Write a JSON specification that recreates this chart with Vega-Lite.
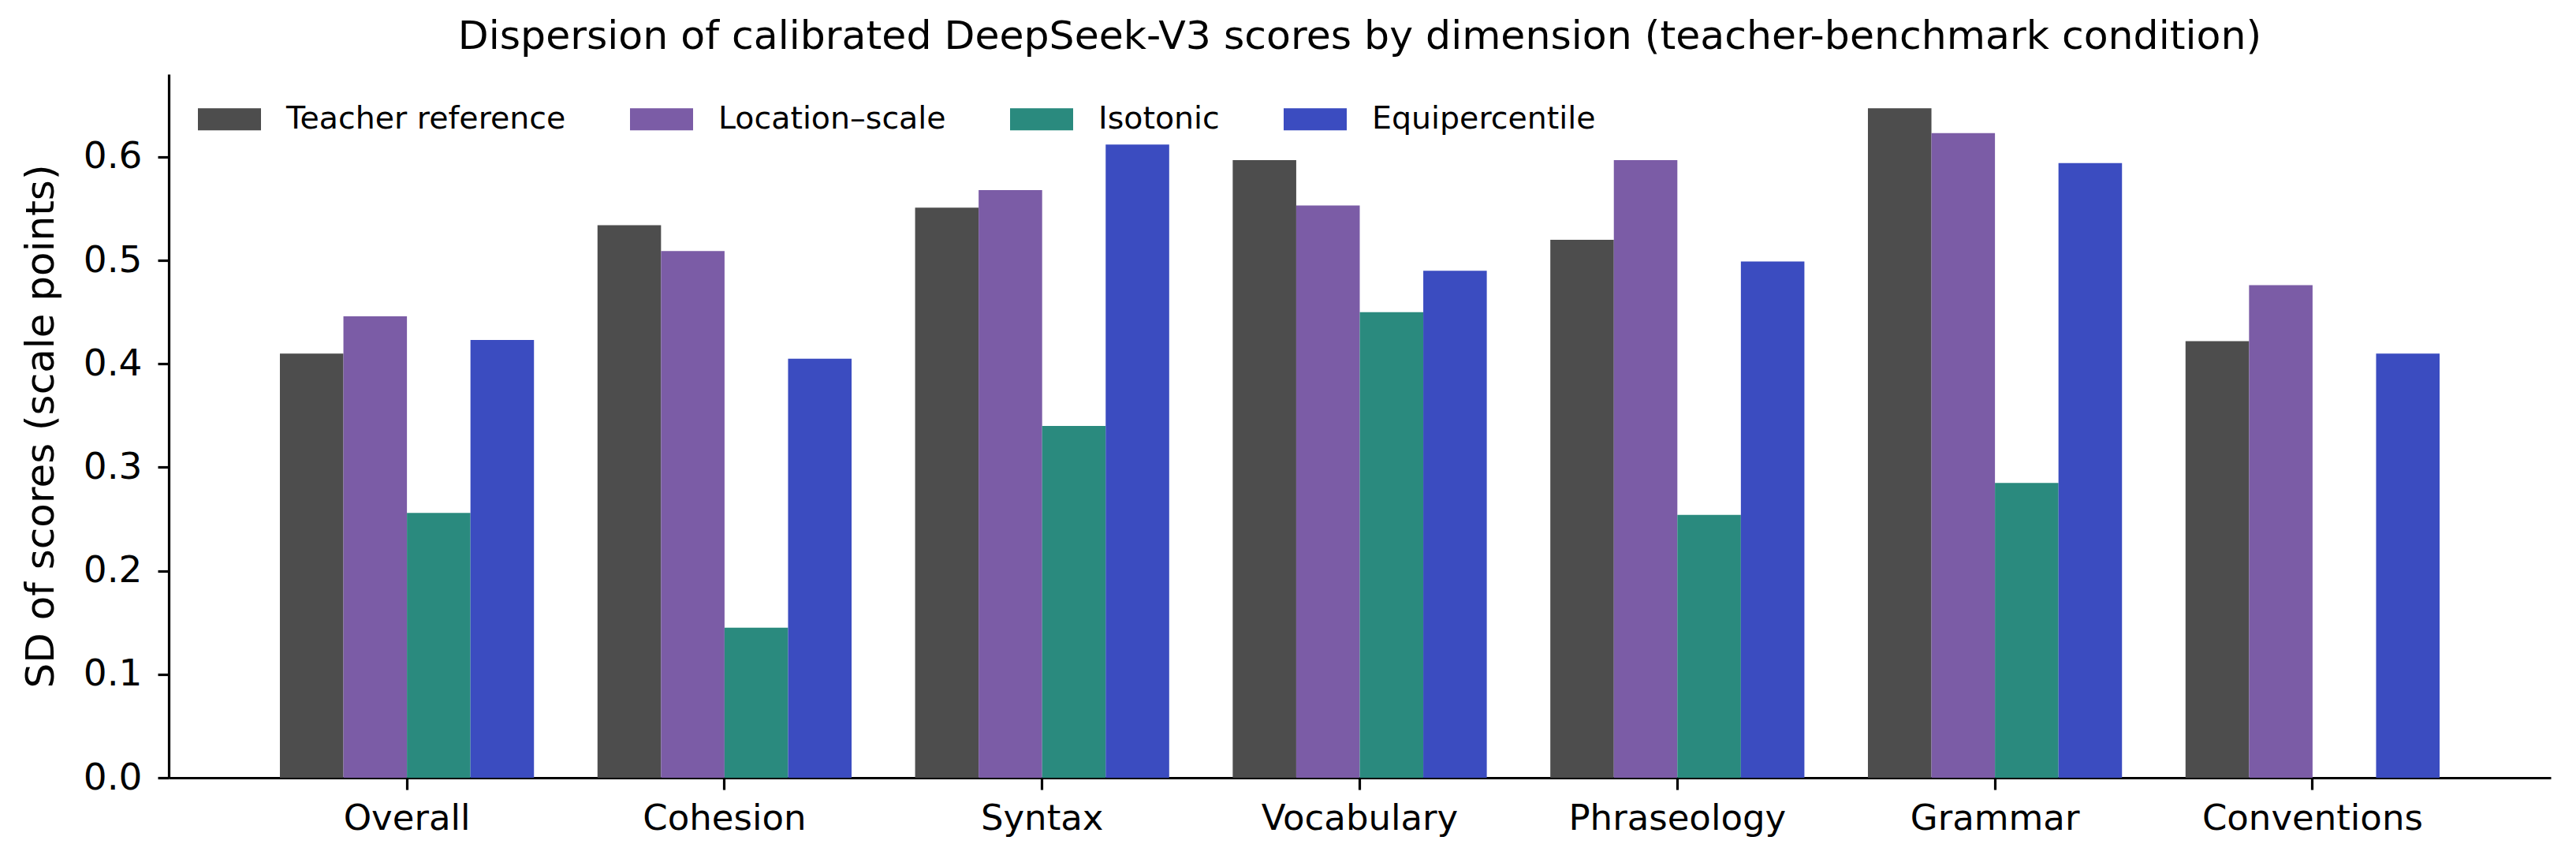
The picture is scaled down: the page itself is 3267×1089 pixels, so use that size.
{
  "$schema": "https://vega.github.io/schema/vega-lite/v6.json",
  "autosize": {"type": "none"},
  "padding": {"left": 214, "top": 94, "right": 32, "bottom": 103},
  "width": 3021,
  "height": 892,
  "background": "white",
  "title": {
    "text": "Dispersion of calibrated DeepSeek-V3 scores by dimension (teacher-benchmark condition)",
    "font": "DejaVu Sans",
    "fontSize": 50.5,
    "fontWeight": "normal",
    "color": "black",
    "anchor": "middle",
    "offset": 22
  },
  "data": {
    "values": [
      {"dimension": "Overall", "method": "Teacher reference", "sd": 0.410},
      {"dimension": "Overall", "method": "Location–scale", "sd": 0.446},
      {"dimension": "Overall", "method": "Isotonic", "sd": 0.256},
      {"dimension": "Overall", "method": "Equipercentile", "sd": 0.423},
      {"dimension": "Cohesion", "method": "Teacher reference", "sd": 0.534},
      {"dimension": "Cohesion", "method": "Location–scale", "sd": 0.509},
      {"dimension": "Cohesion", "method": "Isotonic", "sd": 0.145},
      {"dimension": "Cohesion", "method": "Equipercentile", "sd": 0.405},
      {"dimension": "Syntax", "method": "Teacher reference", "sd": 0.551},
      {"dimension": "Syntax", "method": "Location–scale", "sd": 0.568},
      {"dimension": "Syntax", "method": "Isotonic", "sd": 0.340},
      {"dimension": "Syntax", "method": "Equipercentile", "sd": 0.612},
      {"dimension": "Vocabulary", "method": "Teacher reference", "sd": 0.597},
      {"dimension": "Vocabulary", "method": "Location–scale", "sd": 0.553},
      {"dimension": "Vocabulary", "method": "Isotonic", "sd": 0.450},
      {"dimension": "Vocabulary", "method": "Equipercentile", "sd": 0.490},
      {"dimension": "Phraseology", "method": "Teacher reference", "sd": 0.520},
      {"dimension": "Phraseology", "method": "Location–scale", "sd": 0.597},
      {"dimension": "Phraseology", "method": "Isotonic", "sd": 0.254},
      {"dimension": "Phraseology", "method": "Equipercentile", "sd": 0.499},
      {"dimension": "Grammar", "method": "Teacher reference", "sd": 0.647},
      {"dimension": "Grammar", "method": "Location–scale", "sd": 0.623},
      {"dimension": "Grammar", "method": "Isotonic", "sd": 0.285},
      {"dimension": "Grammar", "method": "Equipercentile", "sd": 0.594},
      {"dimension": "Conventions", "method": "Teacher reference", "sd": 0.422},
      {"dimension": "Conventions", "method": "Location–scale", "sd": 0.476},
      {"dimension": "Conventions", "method": "Equipercentile", "sd": 0.410}
    ]
  },
  "mark": {"type": "bar"},
  "encoding": {
    "x": {
      "field": "dimension",
      "type": "nominal",
      "sort": ["Overall", "Cohesion", "Syntax", "Vocabulary", "Phraseology", "Grammar", "Conventions"],
      "scale": {"paddingInner": 0.2, "paddingOuter": 0.35},
      "axis": {
        "title": null,
        "labelAngle": 0,
        "labelFontSize": 45,
        "labelPadding": 14,
        "labelLimit": 0,
        "tickSize": 15
      }
    },
    "xOffset": {
      "field": "method",
      "type": "nominal",
      "sort": ["Teacher reference", "Location–scale", "Isotonic", "Equipercentile"],
      "scale": {"paddingInner": 0, "paddingOuter": 0}
    },
    "y": {
      "field": "sd",
      "type": "quantitative",
      "scale": {"domain": [0, 0.68], "nice": false},
      "axis": {
        "title": "SD of scores (scale points)",
        "values": [0, 0.1, 0.2, 0.3, 0.4, 0.5, 0.6],
        "format": ".1f",
        "labelFontSize": 47,
        "labelPadding": 20,
        "tickSize": 14,
        "titleFontSize": 50,
        "titleX": -162,
        "titleY": 446,
        "titleBaseline": "middle"
      }
    },
    "color": {
      "field": "method",
      "type": "nominal",
      "scale": {
        "domain": ["Teacher reference", "Location–scale", "Isotonic", "Equipercentile"],
        "range": ["#4d4d4d", "#7b5ca6", "#2a8a7e", "#3b4cc0"]
      },
      "legend": {
        "title": null,
        "orient": "none",
        "legendX": 37,
        "legendY": 17,
        "direction": "horizontal",
        "symbolType": "M-1,-0.35H1V0.35H-1Z",
        "symbolSize": 6400,
        "symbolStrokeWidth": 0,
        "symbolOpacity": 1,
        "labelFontSize": 39.5,
        "labelOffset": 32,
        "columnPadding": 81,
        "padding": 0,
        "labelLimit": 0
      }
    }
  },
  "config": {
    "font": "DejaVu Sans",
    "view": {"stroke": null},
    "axis": {
      "grid": false,
      "labelFont": "DejaVu Sans",
      "titleFont": "DejaVu Sans",
      "labelColor": "black",
      "titleColor": "black",
      "titleFontWeight": "normal",
      "domainColor": "black",
      "domainWidth": 3.2,
      "tickColor": "black",
      "tickWidth": 3.2
    },
    "legend": {
      "labelFont": "DejaVu Sans",
      "labelColor": "black"
    }
  }
}
